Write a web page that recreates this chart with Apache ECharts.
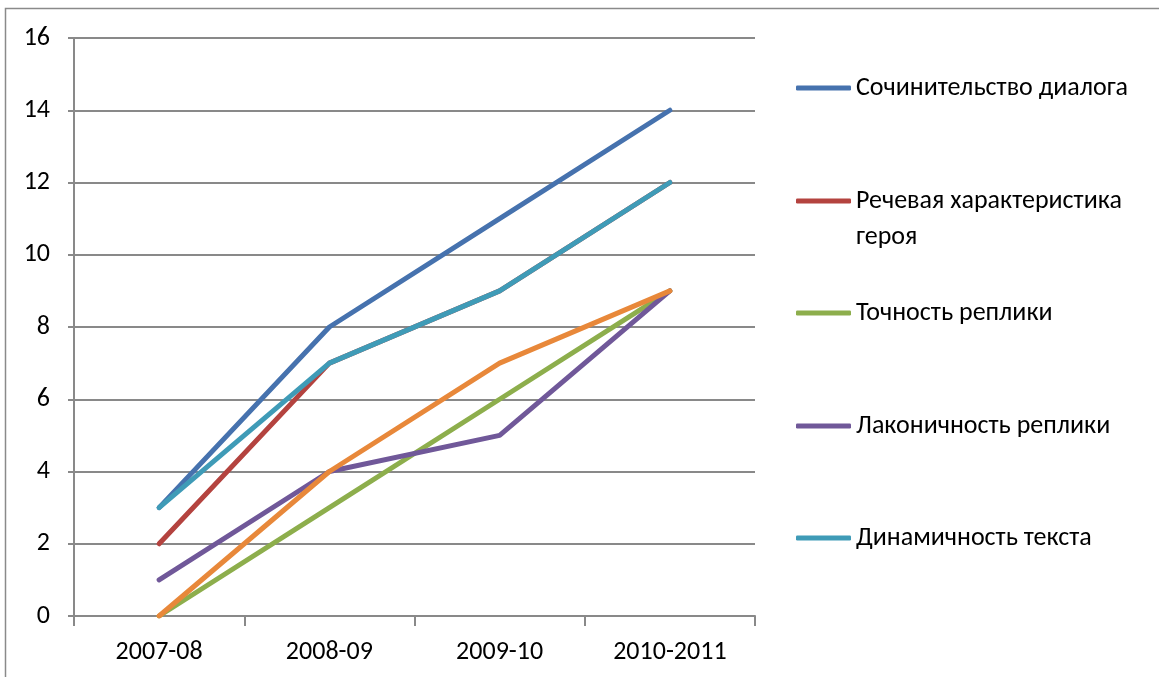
<!DOCTYPE html>
<html>
<head>
<meta charset="utf-8">
<script src="https://cdn.jsdelivr.net/npm/echarts@6/dist/echarts.min.js"></script>
<style>
  html, body { margin: 0; padding: 0; background: #fff; }
  #chart { width: 1159px; height: 677px; }
</style>
</head>
<body>
<div id="chart"></div>
<script>
// School years on the category axis
const years = ['2007-08', '2008-09', '2009-10', '2010-2011'];

// Scores per skill, one array per line
const sochinitelstvo = [3, 8, 11, 14];
const rechevaya = [2, 7, 9, 12];
const tochnost = [0, 3, 6, 9];
const lakonichnost = [1, 4, 5, 9];
const dinamichnost = [3, 7, 9, 12];
const extraLine = [0, 4, 7, 9];

const seriesNames = [
  'Сочинительство диалога',
  'Речевая характеристика героя',
  'Точность реплики',
  'Лаконичность реплики',
  'Динамичность текста',
  ''
];
const seriesData = [sochinitelstvo, rechevaya, tochnost, lakonichnost, dinamichnost, extraLine];
const colors = ['#4672AE', '#B4433F', '#8DAE4C', '#705899', '#3F9BB7', '#E8883A'];

// Y axis: 0..16 step 2
const yMin = 0, yMax = 16, yStep = 2;

const FONT = "Carlito, Lato, 'Noto Sans', sans-serif";
const FS = 26;
const LH = 36;
const axisGray = '#898989';

const series = seriesData.map((d, i) => ({
  name: seriesNames[i] || 'extra',
  type: 'line',
  data: d,
  showSymbol: false,
  symbol: 'none',
  smooth: false,
  z: 2 + i,
  lineStyle: { width: 5, color: colors[i], cap: 'round', join: 'round' },
  itemStyle: { color: colors[i] },
  emphasis: { disabled: true }
}));

// One legend block per entry, each placed at its own height.
// The wrapped entry gets a leading empty line so its first line sits beside the swatch.
const WRAPPED = 'Речевая характеристика героя';
const legendTops = [65, 142, 290, 403, 515];
const legends = seriesNames.slice(0, 5).map((n, i) => ({
  data: [n],
  left: 791,
  top: legendTops[i],
  orient: 'vertical',
  icon: 'roundRect',
  itemWidth: 55,
  itemHeight: 5,
  itemGap: 0,
  selectedMode: false,
  formatter: (name) => name === WRAPPED ? '\nРечевая характеристика\nгероя' : name,
  textStyle: { fontFamily: FONT, fontSize: FS, color: '#000', lineHeight: LH }
}));

const chart = echarts.init(document.getElementById('chart'), null, { renderer: 'canvas' });
chart.setOption({
  animation: false,
  backgroundColor: '#fff',
  color: colors,
  graphic: [{
    type: 'rect',
    shape: { x: 5.5, y: 8.5, width: 1200, height: 700 },
    style: { fill: 'none', stroke: '#8a8a8a', lineWidth: 1.5 },
    silent: true,
    z: -10
  }],
  grid: { left: 74, top: 38, right: 404, bottom: 61, containLabel: false },
  legend: legends,
  xAxis: {
    type: 'category',
    data: years,
    boundaryGap: true,
    axisLine: { lineStyle: { color: axisGray, width: 2 } },
    axisTick: { show: true, alignWithLabel: false, length: 10, lineStyle: { color: axisGray, width: 2 } },
    axisLabel: { fontFamily: FONT, fontSize: FS, color: '#000', margin: 23 },
    splitLine: { show: false }
  },
  yAxis: {
    type: 'value',
    min: yMin, max: yMax, interval: yStep,
    axisLine: { show: true, lineStyle: { color: axisGray, width: 2 } },
    axisTick: { show: true, length: 6, lineStyle: { color: axisGray, width: 2 } },
    axisLabel: { fontFamily: FONT, fontSize: FS, color: '#000', margin: 24 },
    splitLine: { show: true, lineStyle: { color: axisGray, width: 2 } }
  },
  series: series
});
</script>
</body>
</html>
